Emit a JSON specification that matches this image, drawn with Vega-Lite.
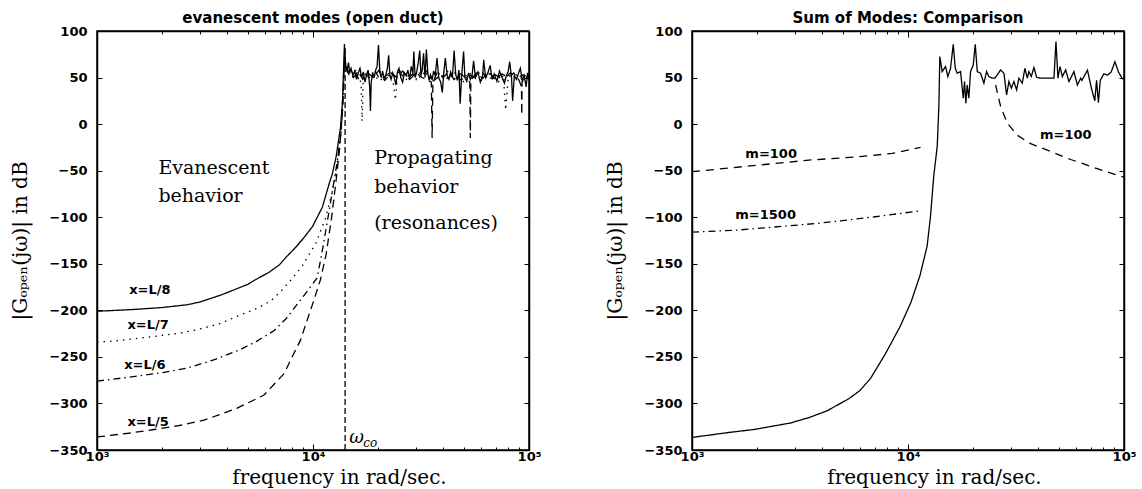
{
 "$schema": "https://vega.github.io/schema/vega-lite/v6.json",
 "background": "white",
 "padding": {"left": 10, "top": 10, "right": 0, "bottom": 0},
 "spacing": 63,
 "datasets": {
  "leftLines": [
   {"s":"L8","f":1000,"v":-201},{"s":"L8","f":1500,"v":-199},{"s":"L8","f":2000,"v":-197},{"s":"L8","f":2620,"v":-194},{"s":"L8","f":3000,"v":-191},{"s":"L8","f":3700,"v":-184},{"s":"L8","f":4000,"v":-181},{"s":"L8","f":5000,"v":-172},{"s":"L8","f":5330,"v":-168},{"s":"L8","f":6270,"v":-159},{"s":"L8","f":7000,"v":-151},{"s":"L8","f":7500,"v":-143},{"s":"L8","f":8340,"v":-132},{"s":"L8","f":9000,"v":-123},{"s":"L8","f":9950,"v":-110},{"s":"L8","f":11060,"v":-89},{"s":"L8","f":11880,"v":-64},{"s":"L8","f":12270,"v":-54},{"s":"L8","f":12800,"v":-35},{"s":"L8","f":13400,"v":-4},{"s":"L8","f":13700,"v":25},{"s":"L8","f":13980,"v":86},
   {"s":"L8","f":14050,"v":75},{"s":"L8","f":14200,"v":62},{"s":"L8","f":14400,"v":58},{"s":"L8","f":14600,"v":66},{"s":"L8","f":14800,"v":55},{"s":"L8","f":15000,"v":60},{"s":"L8","f":15300,"v":52},{"s":"L8","f":15600,"v":57},{"s":"L8","f":15900,"v":48},{"s":"L8","f":16200,"v":55},{"s":"L8","f":16500,"v":60},{"s":"L8","f":16800,"v":50},{"s":"L8","f":17100,"v":56},{"s":"L8","f":17400,"v":45},{"s":"L8","f":17700,"v":53},{"s":"L8","f":18000,"v":58},{"s":"L8","f":18300,"v":40},{"s":"L8","f":18450,"v":14},{"s":"L8","f":18600,"v":45},{"s":"L8","f":18900,"v":55},{"s":"L8","f":19200,"v":50},{"s":"L8","f":19500,"v":58},{"s":"L8","f":19800,"v":62},{"s":"L8","f":20100,"v":85},{"s":"L8","f":20400,"v":55},{"s":"L8","f":20700,"v":50},{"s":"L8","f":21000,"v":57},{"s":"L8","f":21400,"v":47},{"s":"L8","f":21800,"v":54},{"s":"L8","f":22100,"v":60},{"s":"L8","f":22400,"v":74},{"s":"L8","f":22700,"v":52},{"s":"L8","f":23000,"v":48},{"s":"L8","f":23400,"v":55},{"s":"L8","f":23800,"v":50},{"s":"L8","f":24200,"v":42},{"s":"L8","f":24600,"v":56},{"s":"L8","f":25000,"v":60},{"s":"L8","f":25500,"v":50},{"s":"L8","f":26000,"v":45},{"s":"L8","f":26500,"v":55},{"s":"L8","f":27000,"v":52},{"s":"L8","f":27500,"v":58},{"s":"L8","f":28000,"v":48},{"s":"L8","f":28500,"v":62},{"s":"L8","f":29000,"v":55},{"s":"L8","f":29300,"v":78},{"s":"L8","f":29700,"v":50},{"s":"L8","f":30200,"v":56},{"s":"L8","f":30700,"v":66},{"s":"L8","f":31200,"v":79},{"s":"L8","f":31600,"v":52},{"s":"L8","f":32000,"v":58},{"s":"L8","f":32500,"v":76},{"s":"L8","f":33000,"v":50},{"s":"L8","f":33500,"v":80},{"s":"L8","f":34000,"v":55},{"s":"L8","f":34500,"v":47},{"s":"L8","f":35000,"v":53},{"s":"L8","f":35600,"v":48},{"s":"L8","f":36200,"v":57},{"s":"L8","f":36800,"v":52},{"s":"L8","f":37500,"v":71},{"s":"L8","f":38200,"v":50},{"s":"L8","f":39000,"v":45},{"s":"L8","f":39700,"v":34},{"s":"L8","f":40300,"v":55},{"s":"L8","f":41000,"v":71},{"s":"L8","f":41800,"v":52},{"s":"L8","f":42600,"v":48},{"s":"L8","f":43400,"v":56},{"s":"L8","f":44200,"v":50},{"s":"L8","f":45000,"v":79},{"s":"L8","f":45800,"v":53},{"s":"L8","f":46600,"v":47},{"s":"L8","f":47400,"v":58},{"s":"L8","f":48000,"v":22},{"s":"L8","f":48800,"v":52},{"s":"L8","f":49800,"v":78},{"s":"L8","f":50500,"v":50},{"s":"L8","f":51500,"v":46},{"s":"L8","f":52500,"v":55},{"s":"L8","f":53500,"v":48},{"s":"L8","f":54500,"v":52},{"s":"L8","f":55400,"v":68},{"s":"L8","f":56500,"v":50},{"s":"L8","f":58000,"v":56},{"s":"L8","f":59500,"v":45},{"s":"L8","f":61000,"v":52},{"s":"L8","f":61700,"v":69},{"s":"L8","f":63000,"v":50},{"s":"L8","f":64500,"v":55},{"s":"L8","f":66100,"v":63},{"s":"L8","f":67500,"v":48},{"s":"L8","f":69000,"v":54},{"s":"L8","f":71000,"v":46},{"s":"L8","f":73000,"v":57},{"s":"L8","f":75000,"v":50},{"s":"L8","f":77000,"v":44},{"s":"L8","f":78500,"v":52},{"s":"L8","f":80000,"v":56},{"s":"L8","f":81400,"v":67},{"s":"L8","f":83000,"v":50},{"s":"L8","f":84000,"v":25},{"s":"L8","f":85500,"v":52},{"s":"L8","f":87500,"v":48},{"s":"L8","f":89500,"v":55},{"s":"L8","f":91200,"v":60},{"s":"L8","f":93000,"v":47},{"s":"L8","f":95000,"v":52},{"s":"L8","f":97000,"v":40},{"s":"L8","f":98500,"v":55},{"s":"L8","f":100000,"v":50},
   {"s":"L7","f":1000,"v":-234},{"s":"L7","f":1200,"v":-233},{"s":"L7","f":1840,"v":-228},{"s":"L7","f":2500,"v":-224},{"s":"L7","f":3000,"v":-220},{"s":"L7","f":3735,"v":-214},{"s":"L7","f":4500,"v":-206},{"s":"L7","f":5500,"v":-198},{"s":"L7","f":6360,"v":-190},{"s":"L7","f":7000,"v":-181},{"s":"L7","f":7870,"v":-168},{"s":"L7","f":8940,"v":-152},{"s":"L7","f":10310,"v":-128},{"s":"L7","f":11475,"v":-100},{"s":"L7","f":12300,"v":-72},{"s":"L7","f":12900,"v":-45},{"s":"L7","f":13400,"v":-12},{"s":"L7","f":13750,"v":30},{"s":"L7","f":14000,"v":80},
   {"s":"L7","f":14100,"v":65},{"s":"L7","f":14600,"v":55},{"s":"L7","f":15200,"v":50},{"s":"L7","f":15800,"v":58},{"s":"L7","f":16300,"v":48},{"s":"L7","f":16700,"v":45},{"s":"L7","f":16880,"v":3},{"s":"L7","f":17100,"v":50},{"s":"L7","f":17800,"v":55},{"s":"L7","f":18600,"v":52},{"s":"L7","f":19500,"v":47},{"s":"L7","f":20500,"v":56},{"s":"L7","f":21500,"v":50},{"s":"L7","f":22500,"v":55},{"s":"L7","f":23500,"v":45},{"s":"L7","f":24070,"v":26},{"s":"L7","f":24600,"v":52},{"s":"L7","f":25500,"v":58},{"s":"L7","f":27000,"v":50},{"s":"L7","f":28500,"v":55},{"s":"L7","f":30000,"v":48},{"s":"L7","f":32000,"v":60},{"s":"L7","f":34000,"v":52},{"s":"L7","f":36000,"v":47},{"s":"L7","f":38000,"v":55},{"s":"L7","f":40000,"v":50},{"s":"L7","f":42500,"v":58},{"s":"L7","f":45000,"v":48},{"s":"L7","f":47500,"v":52},{"s":"L7","f":50000,"v":45},{"s":"L7","f":53000,"v":55},{"s":"L7","f":56000,"v":50},{"s":"L7","f":60000,"v":47},{"s":"L7","f":64000,"v":56},{"s":"L7","f":68000,"v":50},{"s":"L7","f":72000,"v":45},{"s":"L7","f":76000,"v":52},{"s":"L7","f":78000,"v":15},{"s":"L7","f":80000,"v":48},{"s":"L7","f":85000,"v":55},{"s":"L7","f":90000,"v":50},{"s":"L7","f":95000,"v":47},{"s":"L7","f":100000,"v":52},
   {"s":"L6","f":1000,"v":-276},{"s":"L6","f":1500,"v":-271},{"s":"L6","f":2000,"v":-267},{"s":"L6","f":2620,"v":-262},{"s":"L6","f":3500,"v":-253},{"s":"L6","f":4620,"v":-242},{"s":"L6","f":5500,"v":-233},{"s":"L6","f":6590,"v":-222},{"s":"L6","f":7500,"v":-209},{"s":"L6","f":8750,"v":-189},{"s":"L6","f":9500,"v":-178},{"s":"L6","f":10460,"v":-165},{"s":"L6","f":11060,"v":-135},{"s":"L6","f":11880,"v":-93},{"s":"L6","f":12500,"v":-62},{"s":"L6","f":13000,"v":-38},{"s":"L6","f":13500,"v":-8},{"s":"L6","f":13800,"v":30},{"s":"L6","f":14000,"v":75},
   {"s":"L6","f":14100,"v":60},{"s":"L6","f":14800,"v":52},{"s":"L6","f":15500,"v":57},{"s":"L6","f":16300,"v":48},{"s":"L6","f":17200,"v":55},{"s":"L6","f":18200,"v":50},{"s":"L6","f":19300,"v":58},{"s":"L6","f":20500,"v":47},{"s":"L6","f":22000,"v":53},{"s":"L6","f":23500,"v":50},{"s":"L6","f":25000,"v":56},{"s":"L6","f":27000,"v":48},{"s":"L6","f":29000,"v":54},{"s":"L6","f":31000,"v":50},{"s":"L6","f":33500,"v":57},{"s":"L6","f":36000,"v":46},{"s":"L6","f":39000,"v":53},{"s":"L6","f":42000,"v":49},{"s":"L6","f":45000,"v":56},{"s":"L6","f":48500,"v":47},{"s":"L6","f":52000,"v":54},{"s":"L6","f":56000,"v":50},{"s":"L6","f":60000,"v":57},{"s":"L6","f":65000,"v":48},{"s":"L6","f":70000,"v":53},{"s":"L6","f":76000,"v":47},{"s":"L6","f":82000,"v":55},{"s":"L6","f":88000,"v":49},{"s":"L6","f":94000,"v":53},{"s":"L6","f":100000,"v":50},
   {"s":"L5","f":1000,"v":-336},{"s":"L5","f":1400,"v":-332},{"s":"L5","f":1840,"v":-328},{"s":"L5","f":2500,"v":-323},{"s":"L5","f":3130,"v":-318},{"s":"L5","f":4460,"v":-305},{"s":"L5","f":5930,"v":-291},{"s":"L5","f":7340,"v":-268},{"s":"L5","f":8750,"v":-232},{"s":"L5","f":10100,"v":-189},{"s":"L5","f":10830,"v":-167},{"s":"L5","f":11500,"v":-140},{"s":"L5","f":12200,"v":-100},{"s":"L5","f":12800,"v":-60},{"s":"L5","f":13300,"v":-25},{"s":"L5","f":13700,"v":15},{"s":"L5","f":14000,"v":70},
   {"s":"L5","f":14100,"v":62},{"s":"L5","f":14700,"v":55},{"s":"L5","f":15400,"v":50},{"s":"L5","f":16200,"v":57},{"s":"L5","f":17000,"v":48},{"s":"L5","f":18000,"v":55},{"s":"L5","f":19000,"v":50},{"s":"L5","f":20200,"v":58},{"s":"L5","f":21500,"v":47},{"s":"L5","f":23000,"v":55},{"s":"L5","f":24500,"v":50},{"s":"L5","f":26000,"v":57},{"s":"L5","f":28000,"v":48},{"s":"L5","f":30000,"v":55},{"s":"L5","f":32000,"v":50},{"s":"L5","f":34000,"v":47},{"s":"L5","f":35300,"v":45},{"s":"L5","f":35600,"v":-15},{"s":"L5","f":35900,"v":45},{"s":"L5","f":37500,"v":55},{"s":"L5","f":40000,"v":50},{"s":"L5","f":42500,"v":56},{"s":"L5","f":45000,"v":48},{"s":"L5","f":48000,"v":54},{"s":"L5","f":51000,"v":50},{"s":"L5","f":53200,"v":45},{"s":"L5","f":53500,"v":-15},{"s":"L5","f":53800,"v":47},{"s":"L5","f":57000,"v":55},{"s":"L5","f":61000,"v":49},{"s":"L5","f":65000,"v":56},{"s":"L5","f":70000,"v":48},{"s":"L5","f":75000,"v":54},{"s":"L5","f":80000,"v":50},{"s":"L5","f":85000,"v":55},{"s":"L5","f":90000,"v":47},{"s":"L5","f":92300,"v":40},{"s":"L5","f":92600,"v":10},{"s":"L5","f":92900,"v":45},{"s":"L5","f":96000,"v":52},{"s":"L5","f":100000,"v":48}
  ],
  "leftCut": [{"f":14080,"lo":-350,"hi":85}],
  "leftSans": [
   {"f":1409,"v":-178,"t":"x=L/8"},{"f":1384,"v":-216,"t":"x=L/7"},{"f":1336,"v":-259,"t":"x=L/6"},{"f":1384,"v":-320,"t":"x=L/5"}
  ],
  "leftSerif": [
   {"f":1924,"v":-47,"t":"Evanescent"},{"f":1924,"v":-77,"t":"behavior"},{"f":19190,"v":-36,"t":"Propagating"},{"f":19190,"v":-68,"t":"behavior"},{"f":19190,"v":-106,"t":"(resonances)"}
  ],
  "omega": [{"f":14700,"v":-337,"t":"ω"}],
  "omegaSub": [{"f":17100,"v":-342,"t":"co"}],
  "rightLines": [
   {"s":"R","f":1000,"v":-336.5},{"s":"R","f":1500,"v":-331},{"s":"R","f":1936,"v":-328},{"s":"R","f":2856,"v":-321},{"s":"R","f":3500,"v":-315},{"s":"R","f":4212,"v":-308},{"s":"R","f":5318,"v":-295},{"s":"R","f":6000,"v":-286},{"s":"R","f":6714,"v":-273},{"s":"R","f":7845,"v":-247},{"s":"R","f":9163,"v":-218},{"s":"R","f":10297,"v":-192},{"s":"R","f":11349,"v":-163},{"s":"R","f":12262,"v":-131},{"s":"R","f":12700,"v":-100},{"s":"R","f":13170,"v":-55},{"s":"R","f":13655,"v":-24},{"s":"R","f":13900,"v":20},{"s":"R","f":14040,"v":72.5},
   {"s":"R","f":14400,"v":56.4},{"s":"R","f":14920,"v":61.8},{"s":"R","f":15290,"v":51.1},{"s":"R","f":15740,"v":60},{"s":"R","f":16200,"v":85.7},{"s":"R","f":16550,"v":60},{"s":"R","f":16900,"v":54.6},{"s":"R","f":17510,"v":56.4},{"s":"R","f":18020,"v":27.8},{"s":"R","f":18270,"v":45.7},{"s":"R","f":18530,"v":22.4},{"s":"R","f":18800,"v":42},{"s":"R","f":19130,"v":27.8},{"s":"R","f":19480,"v":56.4},{"s":"R","f":20050,"v":63.5},{"s":"R","f":20480,"v":85.7},{"s":"R","f":20930,"v":56.4},{"s":"R","f":21680,"v":54.6},{"s":"R","f":22460,"v":44},{"s":"R","f":23120,"v":56.4},{"s":"R","f":23680,"v":51.1},{"s":"R","f":24560,"v":49.3},{"s":"R","f":25250,"v":49.3},{"s":"R","f":25900,"v":52.9},{"s":"R","f":26840,"v":58.2},{"s":"R","f":27800,"v":54.6},{"s":"R","f":28610,"v":31.4},{"s":"R","f":29320,"v":45.7},{"s":"R","f":30080,"v":38.6},{"s":"R","f":30930,"v":45.7},{"s":"R","f":31830,"v":36.8},{"s":"R","f":32620,"v":49.3},{"s":"R","f":33820,"v":44},{"s":"R","f":34780,"v":60},{"s":"R","f":35680,"v":49.3},{"s":"R","f":36290,"v":56.4},{"s":"R","f":37230,"v":51.1},{"s":"R","f":38280,"v":60.8},{"s":"R","f":39400,"v":50.4},{"s":"R","f":41110,"v":49.3},{"s":"R","f":47400,"v":49.3},{"s":"R","f":48420,"v":88.6},{"s":"R","f":49460,"v":49.3},{"s":"R","f":50530,"v":61.8},{"s":"R","f":51840,"v":51.1},{"s":"R","f":53690,"v":58.2},{"s":"R","f":55610,"v":45.7},{"s":"R","f":58660,"v":56.4},{"s":"R","f":60830,"v":42},{"s":"R","f":63010,"v":49.3},{"s":"R","f":63880,"v":47},{"s":"R","f":67740,"v":58},{"s":"R","f":70400,"v":40},{"s":"R","f":73230,"v":25},{"s":"R","f":74660,"v":47},{"s":"R","f":76100,"v":23},{"s":"R","f":77660,"v":47},{"s":"R","f":80700,"v":54},{"s":"R","f":83950,"v":52.6},{"s":"R","f":87240,"v":56},{"s":"R","f":90750,"v":67},{"s":"R","f":94300,"v":56},{"s":"R","f":98100,"v":49},{"s":"R","f":100000,"v":48},
   {"s":"m100a","f":1000,"v":-51},{"s":"m100a","f":1300,"v":-48.5},{"s":"m100a","f":2035,"v":-44},{"s":"m100a","f":3470,"v":-38.7},{"s":"m100a","f":5916,"v":-35},{"s":"m100a","f":8450,"v":-31.5},{"s":"m100a","f":11430,"v":-25},
   {"s":"m100b","f":25440,"v":42},{"s":"m100b","f":26840,"v":19},{"s":"m100b","f":28820,"v":1},{"s":"m100b","f":32070,"v":-12},{"s":"m100b","f":36960,"v":-21},{"s":"m100b","f":44160,"v":-28},{"s":"m100b","f":56620,"v":-38},{"s":"m100b","f":63700,"v":-42},{"s":"m100b","f":80000,"v":-50},{"s":"m100b","f":100000,"v":-57},
   {"s":"m1500","f":1000,"v":-116},{"s":"m1500","f":1587,"v":-114},{"s":"m1500","f":3862,"v":-106.5},{"s":"m1500","f":7060,"v":-99.5},{"s":"m1500","f":11500,"v":-93}
  ],
  "rightSans": [
   {"f":1766,"v":-32,"t":"m=100"},{"f":1587,"v":-98,"t":"m=1500"},{"f":40830,"v":-12,"t":"m=100"}
  ]
 },
 "hconcat": [
  {
   "width": 432, "height": 419,
   "title": "evanescent modes (open duct)",
   "layer": [
    {
     "data": {"name": "leftLines"},
     "mark": {"type": "line", "strokeWidth": 1.3, "color": "black"},
     "encoding": {
      "x": {"field": "f", "type": "quantitative", "scale": {"type": "log", "domain": [1000, 100000]},
       "axis": {"orient": "bottom", "values": [1000,2000,3000,4000,5000,6000,7000,8000,9000,10000,20000,30000,40000,50000,60000,70000,80000,90000,100000],
        "labelExpr": "datum.value==1000?'10³':datum.value==10000?'10⁴':datum.value==100000?'10⁵':''",
        "tickSize": {"condition": {"test": "datum.value==1000||datum.value==10000||datum.value==100000", "value": -6}, "value": -3},
        "labelPadding": 6, "title": "frequency in rad/sec.", "titleX": 242, "titleY": 33, "titleBaseline": "alphabetic"}},
      "y": {"field": "v", "type": "quantitative", "scale": {"domain": [-350, 100]},
       "axis": {"orient": "left", "values": [-350,-300,-250,-200,-150,-100,-50,0,50,100], "tickSize": -5, "labelPadding": 15, "title": "|Gₒₚₑₙ(jω)| in dB", "titlePadding": 18}},
      "detail": {"field": "s"},
      "strokeDash": {"field": "s", "type": "nominal", "scale": {"domain": ["L5","L6","L7","L8","R","m100a","m100b","m1500"], "range": [[8,5],[7,4,1.5,4],[1.5,5],[1,0],[1,0],[8,6],[8,6],[7,4,1.5,4]]}, "legend": null}
     }
    },
    {
     "data": {"name": "leftCut"},
     "mark": {"type": "rule", "strokeDash": [6,3], "strokeWidth": 1.3, "color": "black"},
     "encoding": {
      "x": {"field": "f", "type": "quantitative",
       "axis": {"orient": "top", "values": [1000,2000,3000,4000,5000,6000,7000,8000,9000,10000,20000,30000,40000,50000,60000,70000,80000,90000,100000], "labels": false, "title": null,
        "tickSize": {"condition": {"test": "datum.value==1000||datum.value==10000||datum.value==100000", "value": -6}, "value": -3}}},
      "y": {"field": "lo", "type": "quantitative", "axis": {"orient": "right", "values": [-350,-300,-250,-200,-150,-100,-50,0,50,100], "labels": false, "tickSize": -5, "title": null}},
      "y2": {"field": "hi"}
     }
    },
    {
     "data": {"name": "leftSans"},
     "mark": {"type": "text", "font": "DejaVu Sans", "fontWeight": "bold", "fontSize": 13, "align": "left", "baseline": "middle", "color": "black"},
     "encoding": {"x": {"field": "f", "type": "quantitative", "axis": null}, "y": {"field": "v", "type": "quantitative", "axis": null}, "text": {"field": "t"}}
    },
    {
     "data": {"name": "leftSerif"},
     "mark": {"type": "text", "font": "DejaVu Serif", "fontSize": 19, "align": "left", "baseline": "middle", "color": "black"},
     "encoding": {"x": {"field": "f", "type": "quantitative", "axis": null}, "y": {"field": "v", "type": "quantitative", "axis": null}, "text": {"field": "t"}}
    },
    {
     "data": {"name": "omega"},
     "mark": {"type": "text", "font": "DejaVu Serif", "fontStyle": "italic", "fontSize": 18, "align": "left", "baseline": "middle", "color": "black"},
     "encoding": {"x": {"field": "f", "type": "quantitative", "axis": null}, "y": {"field": "v", "type": "quantitative", "axis": null}, "text": {"field": "t"}}
    },
    {
     "data": {"name": "omegaSub"},
     "mark": {"type": "text", "font": "DejaVu Serif", "fontStyle": "italic", "fontSize": 12, "align": "left", "baseline": "middle", "color": "black"},
     "encoding": {"x": {"field": "f", "type": "quantitative", "axis": null}, "y": {"field": "v", "type": "quantitative", "axis": null}, "text": {"field": "t"}}
    }
   ],
   "resolve": {"axis": {"x": "independent", "y": "independent"}}
  },
  {
   "width": 432, "height": 419,
   "title": "Sum of Modes: Comparison",
   "layer": [
    {
     "data": {"name": "rightLines"},
     "mark": {"type": "line", "strokeWidth": 1.3, "color": "black"},
     "encoding": {
      "x": {"field": "f", "type": "quantitative", "scale": {"type": "log", "domain": [1000, 100000]},
       "axis": {"orient": "bottom", "values": [1000,2000,3000,4000,5000,6000,7000,8000,9000,10000,20000,30000,40000,50000,60000,70000,80000,90000,100000],
        "labelExpr": "datum.value==1000?'10³':datum.value==10000?'10⁴':datum.value==100000?'10⁵':''",
        "tickSize": {"condition": {"test": "datum.value==1000||datum.value==10000||datum.value==100000", "value": -6}, "value": -3},
        "labelPadding": 6, "title": "frequency in rad/sec.", "titleX": 242, "titleY": 33, "titleBaseline": "alphabetic"}},
      "y": {"field": "v", "type": "quantitative", "scale": {"domain": [-350, 100]},
       "axis": {"orient": "left", "values": [-350,-300,-250,-200,-150,-100,-50,0,50,100], "tickSize": -5, "labelPadding": 15, "title": "|Gₒₚₑₙ(jω)| in dB", "titlePadding": 18}},
      "detail": {"field": "s"},
      "strokeDash": {"field": "s", "type": "nominal", "scale": {"domain": ["L5","L6","L7","L8","R","m100a","m100b","m1500"], "range": [[8,5],[7,4,1.5,4],[1.5,5],[1,0],[1,0],[8,6],[8,6],[7,4,1.5,4]]}, "legend": null}
     }
    },
    {
     "data": {"name": "rightSans"},
     "mark": {"type": "text", "font": "DejaVu Sans", "fontWeight": "bold", "fontSize": 13, "align": "left", "baseline": "middle", "color": "black"},
     "encoding": {
      "x": {"field": "f", "type": "quantitative",
       "axis": {"orient": "top", "values": [1000,2000,3000,4000,5000,6000,7000,8000,9000,10000,20000,30000,40000,50000,60000,70000,80000,90000,100000], "labels": false, "title": null,
        "tickSize": {"condition": {"test": "datum.value==1000||datum.value==10000||datum.value==100000", "value": -6}, "value": -3}}},
      "y": {"field": "v", "type": "quantitative", "axis": {"orient": "right", "values": [-350,-300,-250,-200,-150,-100,-50,0,50,100], "labels": false, "tickSize": -5, "title": null}},
      "text": {"field": "t"}
     }
    }
   ],
   "resolve": {"axis": {"x": "independent", "y": "independent"}}
  }
 ],
 "config": {
  "view": {"stroke": "black", "strokeWidth": 1.5},
  "axis": {"grid": false, "domainColor": "black", "domainWidth": 1.5, "tickColor": "black", "tickWidth": 1, "labelColor": "black", "labelFont": "DejaVu Sans", "labelFontWeight": "bold", "labelFontSize": 13, "titleColor": "black", "titleFont": "DejaVu Serif", "titleFontWeight": "normal", "titleFontSize": 20, "labelFlush": false, "labelOverlap": false},
  "title": {"font": "DejaVu Sans", "fontWeight": "bold", "fontSize": 15, "color": "black", "offset": -1}
 }
}
